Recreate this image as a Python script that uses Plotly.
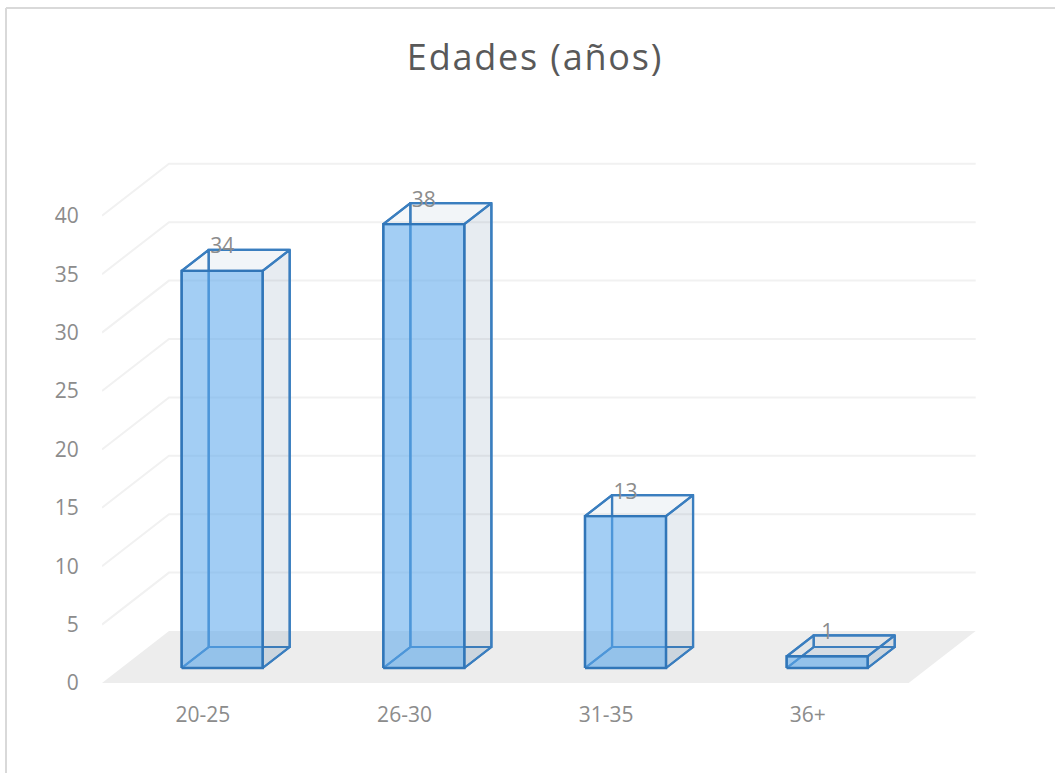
import plotly.graph_objects as go

# ---- data
categories = ["20-25", "26-30", "31-35", "36+"]
values = [34, 38, 13, 1]
value_ticks = [0, 5, 10, 15, 20, 25, 30, 35, 40]
title_text = "Edades (años)"

# ---- oblique projection settings (in axis units)
LEFT_PX = 102
X_PX = 201.67            # pixels per category
Y_PX = 11.68             # pixels per value unit
DEPTH_X = 67 / X_PX      # floor depth, horizontally
DEPTH_Y = 52 / Y_PX      # floor depth, vertically
D_FRONT, D_BACK = 15 / 52, 36 / 52   # bar front/back planes along the depth
HALF = 40.5 / X_PX       # half bar width
X_MIN, X_MAX = -0.5, 3.5
RIGHT_PX = 985
X_AXIS_MAX = X_MIN + (RIGHT_PX - LEFT_PX) / X_PX
Y_AXIS_MAX = (683 - 150) / Y_PX


def proj(x, v, d):
    return x + d * DEPTH_X, v + d * DEPTH_Y


fig = go.Figure()


def poly(points, fill=None, line=None, width=2, closed=True):
    xs = [proj(*p)[0] for p in points]
    ys = [proj(*p)[1] for p in points]
    if closed:
        xs.append(xs[0])
        ys.append(ys[0])
    fig.add_trace(go.Scatter(
        x=xs, y=ys, mode="lines", hoverinfo="skip", showlegend=False,
        cliponaxis=False,
        fill="toself" if fill else None, fillcolor=fill,
        line=dict(color=line or "rgba(0,0,0,0)", width=width if line else 0),
    ))


# Floor
poly([(X_MIN, 0, 0), (X_MAX, 0, 0), (X_MAX, 0, 1), (X_MIN, 0, 1)], fill="#ededed")

# Grid: side wall + back wall
for v in value_ticks[1:]:
    poly([(X_MIN, v, 0), (X_MIN, v, 1), (X_MAX, v, 1)], line="#f1f1f1", width=2, closed=False)

BLUE = "#3a7ebf"
for i, val in enumerate(values):
    l, r = i - HALF, i + HALF
    df, db = D_FRONT, D_BACK
    # back
    poly([(l, 0, db), (r, 0, db), (r, val, db), (l, val, db)], fill="rgba(90,130,170,0.03)", line=BLUE, width=2.2)
    # floor of the bar
    poly([(l, 0, df), (r, 0, df), (r, 0, db), (l, 0, db)], fill="rgba(70,130,190,0.10)", line=BLUE, width=2.2)
    # left
    poly([(l, 0, df), (l, 0, db), (l, val, db), (l, val, df)], fill="rgba(90,130,170,0.02)", line=BLUE, width=2.2)
    # right
    poly([(r, 0, df), (r, 0, db), (r, val, db), (r, val, df)], fill="rgba(70,105,145,0.10)", line=BLUE, width=2.2)
    # top
    poly([(l, val, df), (r, val, df), (r, val, db), (l, val, db)], fill="rgba(90,130,170,0.05)", line=BLUE, width=2.2)
    # front
    poly([(l, 0, df), (r, 0, df), (r, val, df), (l, val, df)], fill="rgba(92,170,238,0.56)", line="#3176b8", width=2.4)

# Data labels
lx = [proj(i, v + 1.95, D_FRONT)[0] for i, v in enumerate(values)]
ly = [proj(i, v + 1.95, D_FRONT)[1] for i, v in enumerate(values)]
fig.add_trace(go.Scatter(
    x=lx, y=ly, mode="text", text=[str(v) for v in values],
    textposition="middle center", hoverinfo="skip", showlegend=False, cliponaxis=False,
    textfont=dict(family="Open Sans", size=21, color="#8c8c8c"),
))

TICK_FONT = dict(family="Open Sans", size=21, color="#8c8c8c")
fig.update_layout(
    width=1055, height=773,
    margin=dict(l=LEFT_PX, r=1055 - RIGHT_PX, t=150, b=90),
    paper_bgcolor="white", plot_bgcolor="rgba(0,0,0,0)",
    showlegend=False,
    title=dict(text=title_text, x=535 / 1055, xanchor="center", xref="container",
               y=1 - 57 / 773, yanchor="middle", yref="container",
               font=dict(family="Open Sans", size=36, color="#595959")),
    xaxis=dict(range=[X_MIN, X_AXIS_MAX], tickmode="array", tickvals=list(range(len(categories))),
               ticktext=categories, showgrid=False, zeroline=False, showline=False,
               ticks="outside", ticklen=13, tickcolor="rgba(0,0,0,0)", tickfont=TICK_FONT),
    yaxis=dict(range=[0, Y_AXIS_MAX], tickmode="array", tickvals=value_ticks,
               showgrid=False, zeroline=False, showline=False,
               ticks="outside", ticklen=18, tickcolor="rgba(0,0,0,0)", tickfont=TICK_FONT),
    shapes=[
        dict(type="line", xref="paper", yref="paper",
             x0=(6 - LEFT_PX) / (RIGHT_PX - LEFT_PX), x1=(1055 - LEFT_PX) / (RIGHT_PX - LEFT_PX),
             y0=(683 - 8) / 533, y1=(683 - 8) / 533, line=dict(color="#d9d9d9", width=2)),
        dict(type="line", xref="paper", yref="paper",
             x0=(6 - LEFT_PX) / (RIGHT_PX - LEFT_PX), x1=(6 - LEFT_PX) / (RIGHT_PX - LEFT_PX),
             y0=(683 - 8) / 533, y1=(683 - 773) / 533, line=dict(color="#d9d9d9", width=2)),
    ],
)

post = """
document.body.style.margin='0';
document.body.style.overflow='hidden';
var s=document.createElement('style');
s.textContent='.gtitle{letter-spacing:1.8px}';
document.head.appendChild(s);
"""
fig.write_html("out.html", post_script=post, config=dict(displayModeBar=False))
